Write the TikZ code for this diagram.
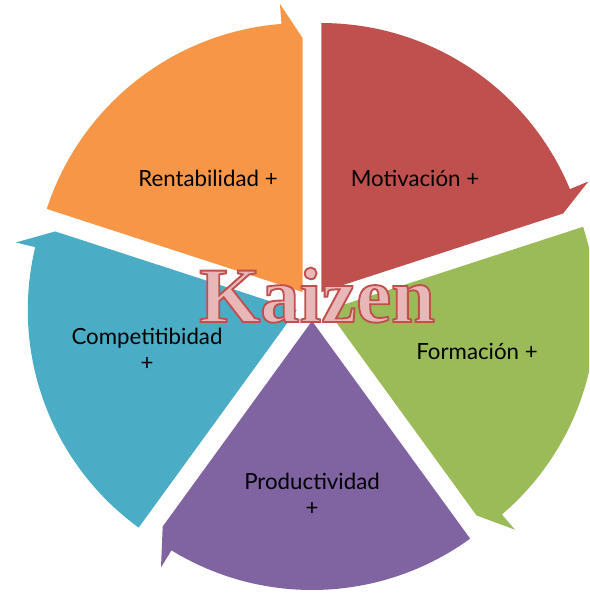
\documentclass[tikz,border=0pt]{standalone}
\usepackage{fontspec}
\newfontfamily\labelfont{Lato}
\newfontfamily\kaizenfont{Liberation Serif}
\usetikzlibrary{calc}

\definecolor{rentColor}{HTML}{F79646}
\definecolor{motiColor}{HTML}{C0504D}
\definecolor{formColor}{HTML}{9BBB59}
\definecolor{prodColor}{HTML}{8064A2}
\definecolor{compColor}{HTML}{4BACC6}
\definecolor{kaizenFill}{HTML}{E8B7B8}

\tikzset{
	segtext/.style={font=\labelfont\fontsize{19}{22}\selectfont, align=center, text=black},
}

\begin{document}
\begin{tikzpicture}[x=0.03cm,y=0.03cm]
	\useasboundingbox (0,0) rectangle (589,596);
	\clip (0,0) rectangle (589,596);
	\coordinate (c) at (312,291);
	
	% segments, clockwise from the top
	\foreach \s/\col/\n in {162/rentColor/rent,90/motiColor/moti,18/formColor/form,-54/prodColor/prod,-126/compColor/comp}{
		\coordinate (\n) at ($(c)+(\s-36:16)$);
		\fill [\col] (\n) -- ++(\s:269) arc [start angle=\s, end angle=\s-67.5, radius=269]
			-- ($(\n)+(\s-67.5:289)$) -- ($(\n)+(\s-72:254)$) -- cycle;
	}
	
	\node (rent label) [segtext] at (208,418) {Rentabilidad +};
	\node (moti label) [segtext] at (415,418) {Motivación +};
	\node (form label) [segtext] at (477,245) {Formación +};
	\node (prod label) [segtext] at (312,102) {Productividad\\+};
	\node (comp label) [segtext] at (147,247) {Competitibidad\\+};
	
	\node (kaizen) [anchor=base] at (317,274) {\kaizenfont\bfseries\fontsize{67}{67}\selectfont\color{kaizenFill}%
		\special{pdf:literal direct 2 Tr 1.6 w 0.753 0.314 0.302 RG}Kaizen\special{pdf:literal direct 0 Tr}};
\end{tikzpicture}
\end{document}
